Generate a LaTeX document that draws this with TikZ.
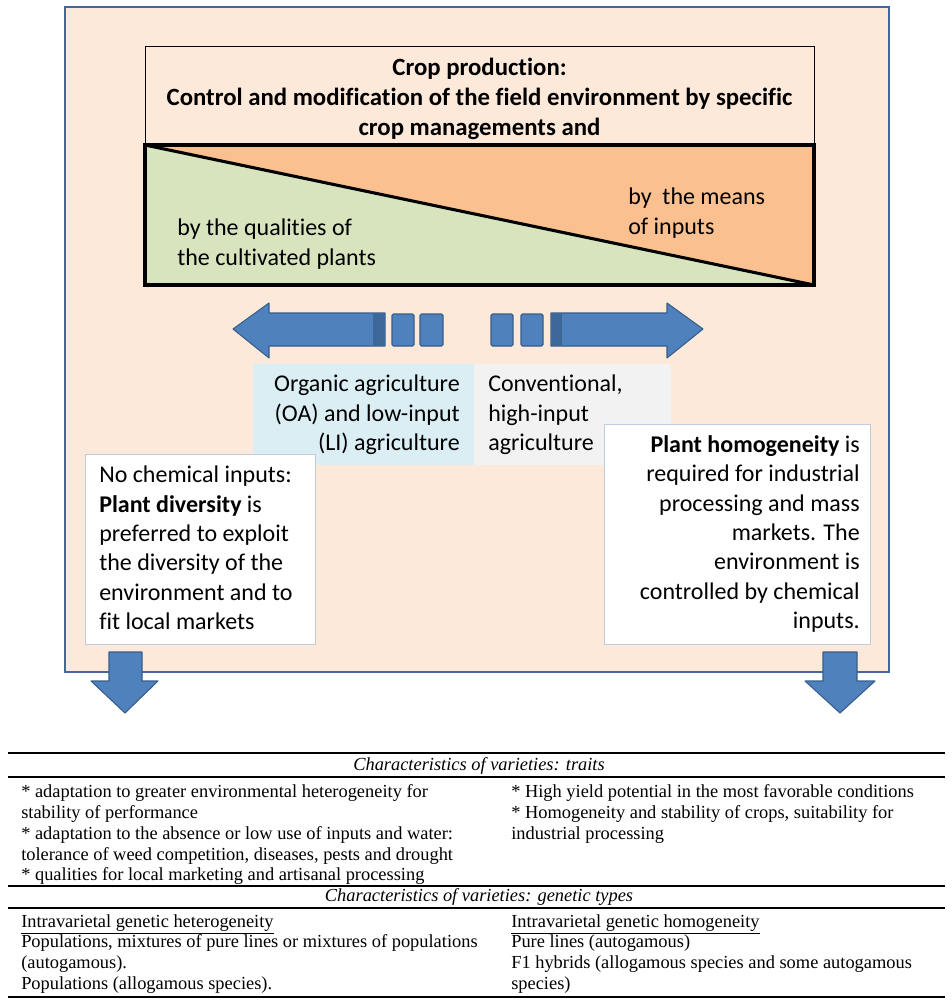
\documentclass[tikz,border=0pt]{standalone}
\usepackage{fontspec}
\setmainfont{Liberation Serif}
\newfontfamily\calibri[Ligatures=NoCommon]{Carlito}
\definecolor{peach}{HTML}{FDE9D9}
\definecolor{framec}{HTML}{41699F}
\definecolor{leafgreen}{HTML}{D7E4BD}
\definecolor{inputorange}{HTML}{FAC090}
\definecolor{arrowblue}{HTML}{4F81BD}
\definecolor{arrowline}{HTML}{385D8A}
\definecolor{arrowdark}{HTML}{3D6699}
\definecolor{aqua}{HTML}{DBEEF4}
\definecolor{greybox}{HTML}{F2F2F2}
\definecolor{boxline}{HTML}{BFCCDD}
\tikzset{
	boxtext/.style={inner sep=0pt, font=\calibri\fontsize{18}{22}\selectfont},
	tabtext/.style={inner sep=0pt, font=\fontsize{13.8}{15.6}\selectfont, align=left},
	blockarrow/.style={fill=arrowblue, draw=arrowline, line width=0.8pt, line join=round},
	rule/.style={line width=1pt}
}
\begin{document}
\begin{tikzpicture}[x=0.75pt,y=-0.75pt]
	\useasboundingbox (0,0) rectangle (951,1000);
	% outer frame
	\filldraw[fill=peach, draw=framec, line width=2.2pt] (65,7) rectangle (889,672);
	% crop production heading
	\draw[line width=0.6pt] (145,46) rectangle (814,145);
	\node[boxtext, font=\calibri\bfseries\fontsize{18.6}{22.5}\selectfont, align=center] (crop) at (479.5,99)
		{Crop production:\\Control and modification of the field environment by specific\\crop managements and};
	% triangle box
	\fill[leafgreen] (145,145) -- (814,285) -- (145,285) -- cycle;
	\fill[inputorange] (145,145) -- (814,145) -- (814,285) -- cycle;
	\draw[line width=2.3pt] (145,145) -- (814,285);
	\draw[line width=3pt] (145,145) rectangle (814,285);
	\node[boxtext, align=left, anchor=west] (plants) at (177,244) {by the qualities of\\the cultivated plants};
	\node[boxtext, align=left, anchor=west] (inputs) at (628,213) {by\ \ the means\\of inputs};
	% horizontal arrows
	\filldraw[blockarrow] (233,329) -- (269,303) -- (269,313) -- (385,313) -- (385,346) -- (269,346) -- (269,358) -- cycle;
	\fill[arrowdark] (373,313.5) rectangle (384.5,345.5);
	\filldraw[blockarrow, rounded corners=1pt] (392,314) rectangle (414,346);
	\filldraw[blockarrow, rounded corners=1pt] (420,314) rectangle (443,346);
	\filldraw[blockarrow, rounded corners=1pt] (491,314) rectangle (513,346);
	\filldraw[blockarrow, rounded corners=1pt] (521,314) rectangle (543,346);
	\filldraw[blockarrow] (703,329) -- (667,303) -- (667,313) -- (551,313) -- (551,346) -- (667,346) -- (667,358) -- cycle;
	\fill[arrowdark] (551.5,313.5) rectangle (562,345.5);
	% agriculture labels
	\fill[aqua] (253,364) rectangle (474,465);
	\fill[greybox] (474,364) rectangle (671,465);
	\node[boxtext, align=right, anchor=east] (organic) at (460,415) {Organic agriculture\\(OA) and low-input\\(LI) agriculture};
	\node[boxtext, align=left, anchor=west] (conv) at (488,415) {Conventional,\\high-input\\agriculture};
	% diversity and homogeneity boxes
	\filldraw[fill=white, draw=boxline, line width=0.6pt] (85,454) rectangle (315,644);
	\node[boxtext, align=left, anchor=west] (diversity) at (99,548)
		{No chemical inputs:\\\textbf{Plant diversity} is\\preferred to exploit\\the diversity of the\\environment and to\\fit local markets};
	\filldraw[fill=white, draw=boxline, line width=0.6pt] (604,424) rectangle (870,644);
	\node[boxtext, align=right, anchor=east] (homog) at (860,534)
		{\textbf{Plant homogeneity} is\\required for industrial\\processing and mass\\markets. The\\environment is\\controlled by chemical\\inputs.};
	% down arrows
	\filldraw[blockarrow] (109,652) -- (142,652) -- (142,681) -- (158,681) -- (125,713) -- (91,681) -- (109,681) -- cycle;
	\filldraw[blockarrow] (823,652) -- (857,652) -- (857,681) -- (875,681) -- (840,713) -- (805,681) -- (823,681) -- cycle;
	% table
	\draw[rule, line width=1.2pt] (8,753) -- (945,753);
	\node[tabtext, font=\itshape\fontsize{13.8}{15.6}\selectfont] (traits) at (479,766) {Characteristics of varieties: traits};
	\draw[rule] (8,777) -- (945,777);
	\node[tabtext, anchor=north west] (traitsl) at (21,784.5)
		{* adaptation to greater environmental heterogeneity for\\stability of performance\\* adaptation to the absence or low use of inputs and water:\\tolerance of weed competition, diseases, pests and drought\\* qualities for local marketing and artisanal processing};
	\node[tabtext, anchor=north west] (traitsr) at (511,784.5)
		{* High yield potential in the most favorable conditions\\* Homogeneity and stability of crops, suitability for\\industrial processing};
	\draw[rule] (8,886) -- (945,886);
	\node[tabtext, font=\itshape\fontsize{13.8}{15.6}\selectfont] (types) at (479,897) {Characteristics of varieties: genetic types};
	\draw[rule] (8,908) -- (945,908);
	\node[tabtext, anchor=north west] (typesl) at (21,914)
		{\underline{Intravarietal genetic heterogeneity}\\Populations, mixtures of pure lines or mixtures of populations\\(autogamous).\\Populations (allogamous species).};
	\node[tabtext, anchor=north west] (typesr) at (511,914)
		{\underline{Intravarietal genetic homogeneity}\\Pure lines (autogamous)\\F1 hybrids (allogamous species and some autogamous\\species)};
	\draw[rule, line width=1.2pt] (8,997) -- (945,997);
\end{tikzpicture}
\end{document}
